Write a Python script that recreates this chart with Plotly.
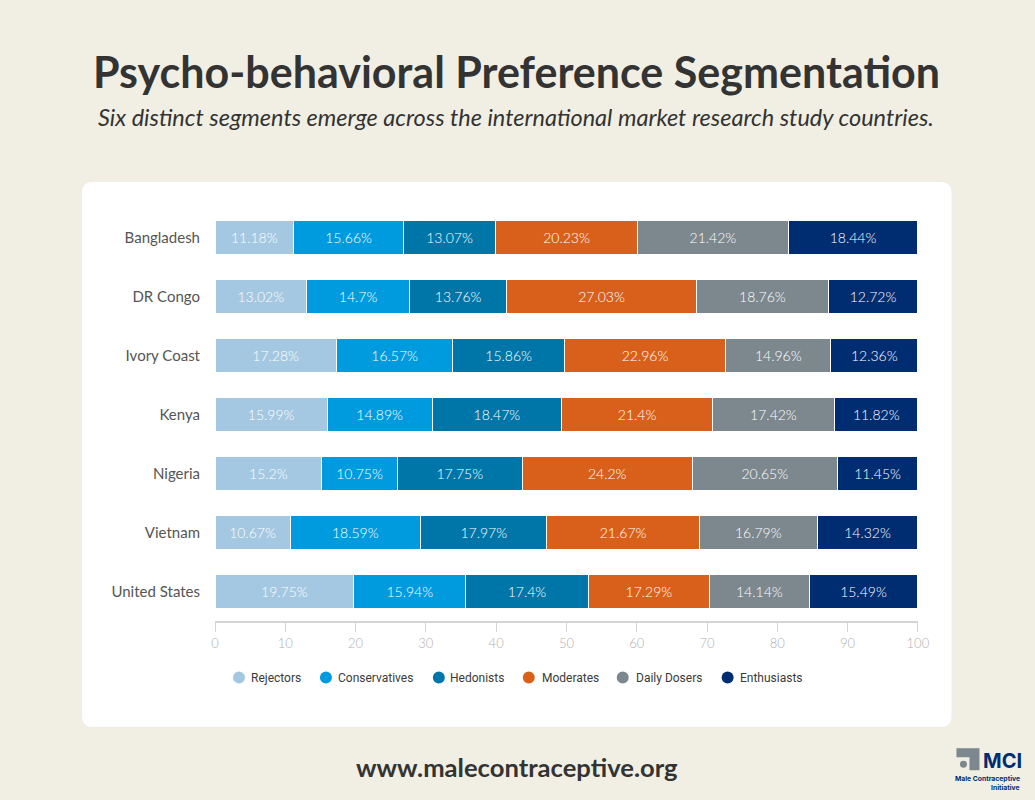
import plotly.graph_objects as go

W, H = 1035, 800
countries = ["Bangladesh", "DR Congo", "Ivory Coast", "Kenya", "Nigeria", "Vietnam", "United States"]
rejectors = [11.18, 13.02, 17.28, 15.99, 15.2, 10.67, 19.75]
conservatives = [15.66, 14.7, 16.57, 14.89, 10.75, 18.59, 15.94]
hedonists = [13.07, 13.76, 15.86, 18.47, 17.75, 17.97, 17.4]
moderates = [20.23, 27.03, 22.96, 21.4, 24.2, 21.67, 17.29]
daily_dosers = [21.42, 18.76, 14.96, 17.42, 20.65, 16.79, 14.14]
enthusiasts = [18.44, 12.72, 12.36, 11.82, 11.45, 14.32, 15.49]
names = ["Rejectors", "Conservatives", "Hedonists", "Moderates", "Daily Dosers", "Enthusiasts"]
colors = ["#A4C8E1", "#009BDE", "#0076A8", "#D9601A", "#7C878E", "#002D72"]
series = [rejectors, conservatives, hedonists, moderates, daily_dosers, enthusiasts]
legend_dots = [239, 326, 439, 529, 623, 728]
legend_text = [250, 337, 449, 541, 635, 739]

L, R, T, B = 215, 918.5, 208, 621.5
def px(x): return (x - L) / (R - L)
def py(y): return (B - y) / (B - T)

fig = go.Figure()
for n, c, v in zip(names, colors, series):
    fig.add_trace(go.Bar(
        y=countries, x=v, name=n, orientation="h", showlegend=False, width=0.58,
        marker=dict(color=c, line=dict(color="#FFFFFF", width=1)),
        text=[f"{a}%" for a in v], textposition="inside", insidetextanchor="middle",
        textangle=0, constraintext="none", cliponaxis=False,
        textfont=dict(color="#FFFFFF", size=14, family="Lato", weight=300), hoverinfo="skip"))

def rounded(x0, y0, x1, y1, r):
    a0, a1 = px(x0), px(x1)
    b0, b1 = py(y0), py(y1)
    rx, ry = r / (R - L), r / (B - T)
    return (f"M{a0+rx},{b0} L{a1-rx},{b0} Q{a1},{b0} {a1},{b0-ry} L{a1},{b1+ry} Q{a1},{b1} {a1-rx},{b1} "
            f"L{a0+rx},{b1} Q{a0},{b1} {a0},{b1+ry} L{a0},{b0-ry} Q{a0},{b0} {a0+rx},{b0} Z")

shapes = [
    dict(type="path", xref="paper", yref="paper", layer="below", path=rounded(82, 182, 952, 727.5, 11),
         fillcolor="#FFFFFF", line=dict(width=0)),
    # logo
    dict(type="path", xref="paper", yref="paper", layer="above", fillcolor="#7C878E", line=dict(width=0),
         path=f"M{px(957)},{py(749)} L{px(980)},{py(749)} L{px(980)},{py(771)} L{px(970)},{py(771)} "
              f"L{px(970)},{py(758)} L{px(957)},{py(758)} Z"),
    dict(type="circle", xref="paper", yref="paper", layer="above", fillcolor="#7C878E", line=dict(width=0),
         x0=px(960.5), x1=px(967.5), y0=py(761.5), y1=py(768.5)),
]
for x, c in zip(legend_dots, colors):
    shapes.append(dict(type="circle", xref="paper", yref="paper", layer="above", fillcolor=c,
                       line=dict(width=0), x0=px(x - 6), x1=px(x + 6), y0=py(672), y1=py(684)))

def note(text, x, y, size, color, family, anchor="center", bold=False):
    return dict(text=f"<b>{text}</b>" if bold else text, x=px(x), y=py(y), xref="paper", yref="paper",
                showarrow=False, xanchor=anchor, yanchor="middle",
                font=dict(size=size, color=color, family=family))

annotations = [
    note("Psycho-behavioral Preference Segmentation", 517, 71.5, 43, "#333333", "Lato", bold=True),
    note("<i>Six distinct segments emerge across the international market research study countries.</i>",
         516.5, 116.5, 23.5, "#333333", "Lato"),
    note("www.malecontraceptive.org", 517, 768, 25.6, "#333333", "Lato", bold=True),
    note("MCI", 1003.5, 762, 20, "#002D72", "Inter", bold=True),
    note("Male Contraceptive", 1023, 779, 6.8, "#002D72", "Inter", bold=True, anchor="right"),
    note("Initiative", 1023, 788, 6.8, "#002D72", "Inter", bold=True, anchor="right"),
]
for x, n in zip(legend_text, names):
    annotations.append(note(n, x - 1, 678.5, 12, "#3A3A3A", "Roboto", anchor="left"))

fig.update_layout(
    width=W, height=H, barmode="stack", bargap=0.42,
    paper_bgcolor="#F1EFE4", plot_bgcolor="rgba(0,0,0,0)",
    margin=dict(l=L, r=W - R, t=T, b=H - B, pad=0),
    shapes=shapes, annotations=annotations, showlegend=False,
    xaxis=dict(range=[0, 100.02], tick0=0, dtick=10, showgrid=False, zeroline=False,
               showline=True, linecolor="#D5D5D5", linewidth=2,
               ticks="outside", ticklen=9, tickcolor="#D5D5D5", tickwidth=1,
               tickfont=dict(size=13, color="#B0B0B0", family="Lato", weight=300)),
    yaxis=dict(autorange="reversed", categoryorder="array", categoryarray=countries, showgrid=False,
               zeroline=False, showline=False, ticks="", ticklabelstandoff=14,
               tickfont=dict(size=15, color="#555555", family="Lato")),
    font=dict(family="Lato"),
)
fig.write_html("out.html", config=dict(displayModeBar=False),
               post_script="document.body.style.margin='0';")
